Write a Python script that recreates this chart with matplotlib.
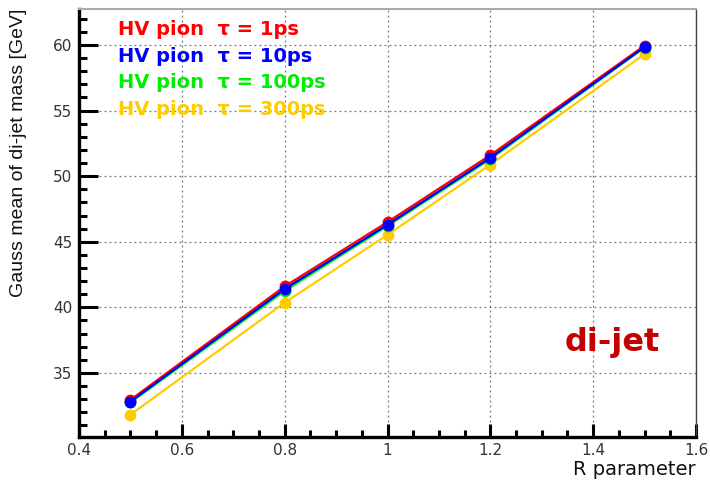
import matplotlib
matplotlib.use("Agg")
import matplotlib.pyplot as plt
from matplotlib.ticker import MultipleLocator

# R parameter scan of the fitted di-jet mass peak
r_values = [0.5, 0.8, 1.0, 1.2, 1.5]
mass_1ps = [32.95, 41.6, 46.5, 51.6, 59.95]
mass_10ps = [32.82, 41.4, 46.3, 51.4, 59.85]
mass_100ps = [32.75, 41.25, 46.2, 51.3, 59.8]
mass_300ps = [31.82, 40.36, 45.53, 50.88, 59.3]

labels = [
    "HV pion  \u03c4 = 1ps",
    "HV pion  \u03c4 = 10ps",
    "HV pion  \u03c4 = 100ps",
    "HV pion  \u03c4 = 300ps",
]
colors = ["#ff0000", "#0000ff", "#00ee00", "#ffcc00"]
series = [mass_1ps, mass_10ps, mass_100ps, mass_300ps]

fig = plt.figure(figsize=(7.1, 4.8), dpi=100)
ax = fig.add_axes([0.1113, 0.0896, 0.869, 0.8917])

# draw order: 300ps, 100ps, 1ps, 10ps (10ps on top)
for idx, z in zip([3, 2, 0, 1], [2, 3, 4, 5]):
    ax.plot(r_values, series[idx], color=colors[idx], lw=1.6,
            marker="o", ms=7.5, mec=colors[idx], mfc=colors[idx], zorder=z)

ax.set_xlim(0.4, 1.6)
ax.set_ylim(30.12, 62.74)
ax.xaxis.set_major_locator(MultipleLocator(0.2))
ax.xaxis.set_minor_locator(MultipleLocator(0.05))
ax.yaxis.set_major_locator(MultipleLocator(5))
ax.yaxis.set_minor_locator(MultipleLocator(1))
ax.set_xticks([0.4, 0.6, 0.8, 1.0, 1.2, 1.4, 1.6])
ax.set_xticklabels(["0.4", "0.6", "0.8", "1", "1.2", "1.4", "1.6"])

ax.grid(True, which="major", ls=(0, (1.5, 2.5)), color="#777777", lw=0.9)
ax.set_axisbelow(True)

ax.tick_params(axis="y", which="major", direction="in", length=13.5, width=2.2,
               labelsize=11, labelcolor="#333333", pad=5)
ax.tick_params(axis="y", which="minor", direction="in", length=6, width=2.2)
ax.tick_params(axis="x", which="major", direction="in", length=9.5, width=2.2,
               labelsize=11, labelcolor="#333333", pad=4)
ax.tick_params(axis="x", which="minor", direction="in", length=5, width=2.2)

ax.spines["left"].set_linewidth(2.4)
ax.spines["bottom"].set_linewidth(2.4)
ax.spines["top"].set_color("#aaaaaa")
ax.spines["top"].set_linewidth(1.5)
ax.spines["right"].set_color("#444444")
ax.spines["right"].set_linewidth(1.0)

ax.set_ylabel("Gauss mean of di-jet mass [GeV]", family="Liberation Sans",
              fontsize=14, color="#111111", labelpad=6)
ax.yaxis.set_label_coords(-0.085, 1.0)
ax.yaxis.label.set_horizontalalignment("right")
ax.set_xlabel("R parameter", fontsize=14, color="#111111")
ax.xaxis.set_label_coords(1.0, -0.054)
ax.xaxis.label.set_horizontalalignment("right")

for i, (lab, col) in enumerate(zip(labels, colors)):
    ax.text(0.063, 0.951 - i * 0.0617, lab, transform=ax.transAxes,
            color=col, fontsize=14, fontweight="bold", va="center", ha="left",
            zorder=6)

ax.text(1.345, 37.3, "di-jet", color="#c40000", fontsize=23,
        fontweight="bold", va="center", ha="left")

fig.savefig("out.png", dpi=100)
